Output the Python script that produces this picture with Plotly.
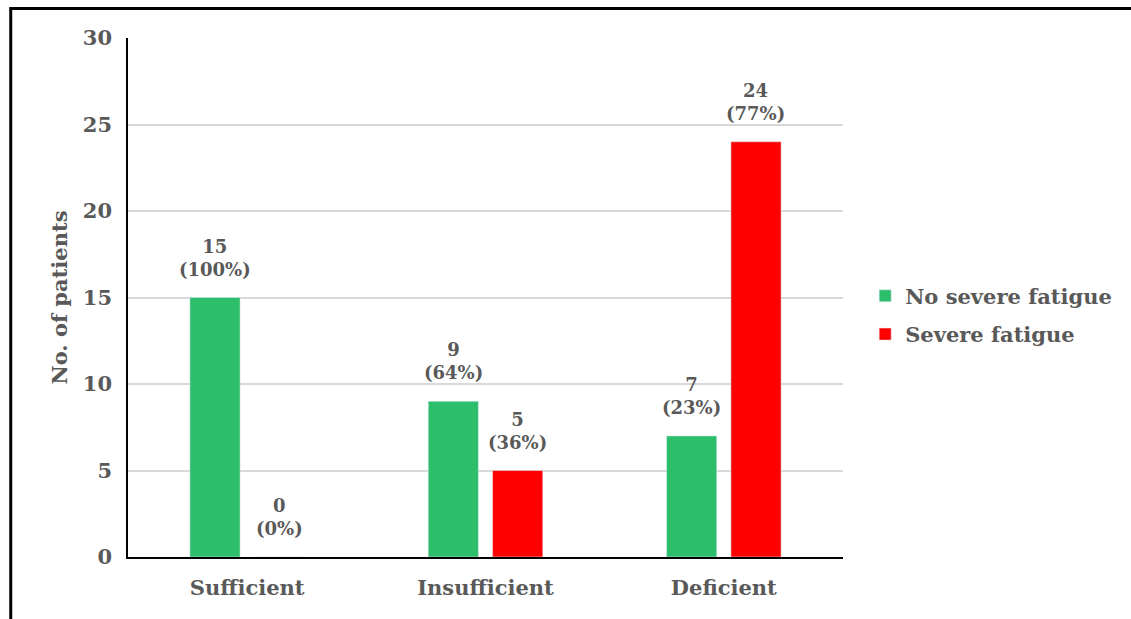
import plotly.graph_objects as go

categories = ["Sufficient", "Insufficient", "Deficient"]
no_severe = [15, 9, 7]
severe = [0, 5, 24]
no_severe_pct = [100, 64, 23]
severe_pct = [0, 36, 77]

GREEN = "#2DBE6C"
RED = "#FF0000"
TEXT = "#595959"
FONT = "DejaVu Serif"

fig = go.Figure()
fig.add_trace(go.Bar(x=categories, y=no_severe, name="<b>No severe fatigue</b>",
                     marker_color=GREEN, legendgroup="a"))
fig.add_trace(go.Bar(x=categories, y=severe, name="<b>Severe fatigue</b>",
                     marker_color=RED, legendgroup="b"))

# value labels above each bar: count on top, percentage beneath
offset = 0.134
for i in range(len(categories)):
    for dx, val, pct in ((-offset, no_severe[i], no_severe_pct[i]),
                         (offset, severe[i], severe_pct[i])):
        fig.add_annotation(x=i + dx, y=val, xref="x", yref="y",
                           text=f"<b>{val}<br>({pct}%)</b>",
                           showarrow=False, yanchor="bottom", yshift=16,
                           font=dict(family=FONT, size=18, color=TEXT))

# outer frame
fig.add_shape(type="rect", xref="paper", yref="paper",
              x0=-0.164, x1=1.5, y0=-0.5, y1=1.0568,
              line=dict(color="black", width=3), layer="above")

fig.update_layout(
    width=1131, height=619,
    margin=dict(l=128, r=288, t=38, b=62),
    paper_bgcolor="white", plot_bgcolor="white",
    barmode="group", bargap=0.46, bargroupgap=0.22,
    font=dict(family=FONT, color=TEXT),
    showlegend=True,
    legend=dict(x=1.031, y=0.466, xanchor="left", yanchor="middle",
                font=dict(family=FONT, size=21, color=TEXT),
                itemwidth=30, tracegroupgap=8),
    xaxis=dict(type="category", showline=True, linecolor="black", linewidth=2,
               ticks="", ticklabelstandoff=11,
               tickfont=dict(family=FONT, size=21, color=TEXT),
               tickprefix="<b>", ticksuffix="</b>", showgrid=False),
    yaxis=dict(range=[0, 30], dtick=5, showline=True, linecolor="black",
               linewidth=1.5, gridcolor="#D9D9D9", gridwidth=1.5, zeroline=False,
               ticks="", ticklabelstandoff=10,
               tickfont=dict(family=FONT, size=21, color=TEXT),
               tickprefix="<b>", ticksuffix="</b>",
               title=dict(text="<b>No. of patients</b>", standoff=9,
                          font=dict(family=FONT, size=21, color=TEXT))),
)

fig.write_html("out.html")
